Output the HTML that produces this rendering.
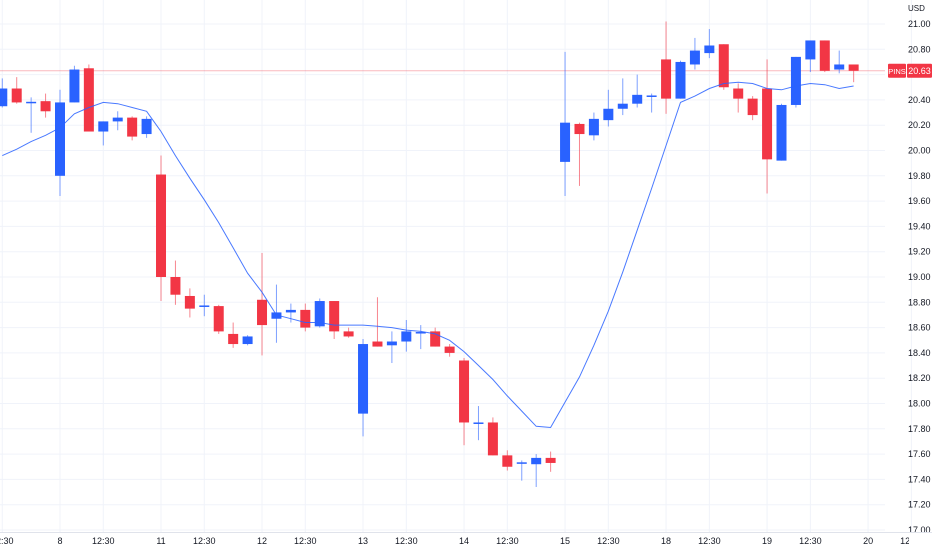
<!DOCTYPE html>
<html><head><meta charset="utf-8">
<style>
html,body{margin:0;padding:0;background:#fff;}
svg{display:block;font-family:"Liberation Sans",sans-serif;}
</style></head>
<body>
<svg id="chart" width="932" height="550" viewBox="0 0 932 550" xmlns="http://www.w3.org/2000/svg">
<defs><clipPath id="plotClip"><rect x="0" y="0" width="885" height="532"/></clipPath>
<clipPath id="xClip"><rect x="0" y="533" width="909" height="17"/></clipPath></defs>
<g id="grid"></g>
<g id="plot" clip-path="url(#plotClip)"></g>
<g id="yaxis"></g>
<g id="xaxis"></g>
</svg>
<script>
const opens  = [20.35,20.49,20.375,20.39,19.80,20.38,20.65,20.15,20.23,20.26,20.13,19.81,19.00,18.85,18.767,18.77,18.55,18.47,18.82,18.67,18.72,18.74,18.61,18.81,18.57,17.92,18.49,18.46,18.49,18.557,18.57,18.45,18.34,17.84,17.85,17.59,17.525,17.52,17.57,19.91,20.21,20.12,20.24,20.33,20.37,20.427,20.72,20.41,20.68,20.77,20.84,20.49,20.41,20.49,19.92,20.36,20.72,20.87,20.64,20.68];
const highs  = [20.57,20.58,20.42,20.45,20.48,20.67,20.68,20.23,20.31,20.27,20.27,19.96,19.13,18.91,18.86,18.78,18.64,18.54,19.19,18.94,18.79,18.79,18.83,18.81,18.60,18.51,18.84,18.57,18.66,18.62,18.60,18.47,18.36,17.98,17.89,17.63,17.55,17.60,17.62,20.78,20.22,20.30,20.48,20.57,20.60,20.45,21.02,20.71,20.89,20.96,20.84,20.53,20.43,20.72,20.37,20.74,20.87,20.87,20.79,20.68];
const lows   = [20.34,20.37,20.14,20.26,19.64,20.38,20.15,20.04,20.16,20.08,20.10,18.81,18.78,18.68,18.69,18.55,18.44,18.46,18.38,18.48,18.64,18.57,18.60,18.51,18.52,17.74,18.45,18.32,18.41,18.43,18.45,18.37,17.67,17.71,17.59,17.47,17.39,17.34,17.46,19.64,19.72,20.08,20.19,20.28,20.34,20.30,20.29,20.41,20.64,20.73,20.48,20.30,20.24,19.66,19.92,20.34,20.62,20.62,20.61,20.54];
const closes = [20.49,20.38,20.385,20.31,20.38,20.64,20.15,20.23,20.26,20.11,20.25,19.00,18.86,18.75,18.775,18.57,18.47,18.53,18.62,18.72,18.74,18.60,18.81,18.57,18.53,18.47,18.45,18.49,18.57,18.565,18.45,18.40,17.85,17.85,17.59,17.50,17.535,17.57,17.53,20.22,20.13,20.25,20.33,20.37,20.44,20.435,20.41,20.70,20.79,20.83,20.50,20.41,20.28,19.93,20.36,20.74,20.87,20.63,20.68,20.63];
const maValues = [19.96,20.01,20.07,20.12,20.18,20.29,20.34,20.38,20.37,20.34,20.31,20.15,19.96,19.78,19.61,19.43,19.23,19.03,18.88,18.70,18.67,18.64,18.64,18.62,18.62,18.62,18.61,18.60,18.58,18.57,18.55,18.50,18.41,18.30,18.19,18.06,17.94,17.82,17.81,18.01,18.21,18.46,18.73,19.04,19.37,19.70,20.04,20.38,20.43,20.49,20.53,20.54,20.53,20.49,20.48,20.51,20.53,20.52,20.49,20.51];
const yTicks = [21.00,20.80,20.60,20.40,20.20,20.00,19.80,19.60,19.40,19.20,19.00,18.80,18.60,18.40,18.20,18.00,17.80,17.60,17.40,17.20,17.00];
const xLabels = ["12:30","8","12:30","11","12:30","12","12:30","13","12:30","14","12:30","15","12:30","18","12:30","19","12:30","20","12:30"];
const xLabelIdx = [-4,0,3,7,10,14,17,21,24,28,31,35,38,42,45,49,52,56,59];
const lastPrice = 20.63;
const symbol = "PINS";

const NS="http://www.w3.org/2000/svg";
const firstIdx=4;
function yScale(v){return 24+(21-v)*126.5;}
function xScale(i){return 60+(i-firstIdx)*14.43;}
function mk(tag,attrs,parent){const e=document.createElementNS(NS,tag);for(const k in attrs)e.setAttribute(k,attrs[k]);parent.appendChild(e);return e;}
const grid=document.getElementById('grid'),plot=document.getElementById('plot'),yax=document.getElementById('yaxis'),xax=document.getElementById('xaxis');
const xlabG=mk('g',{'clip-path':'url(#xClip)'},xax);

yTicks.forEach(t=>{
  const y=yScale(t);
  const l=mk('line',{x1:0,x2:885,y1:y,y2:y,stroke:'#f0f3fa','stroke-width':1},grid);
  
  
  const tx=mk('text',{x:908,y:y+3,'font-size':9,fill:'#131722'},yax);
  tx.textContent=t.toFixed(2);
  
  
});
const usd=mk('text',{x:908,y:11,'font-size':8,fill:'#131722'},yax);usd.textContent='USD';



xLabels.forEach((lab,k)=>{
  const x=xScale(xLabelIdx[k]+firstIdx);
  const l=mk('line',{x1:x,x2:x,y1:0,y2:532,stroke:'#f0f3fa','stroke-width':1},grid);
  
  
  const tx=mk('text',{x:x,y:544,'font-size':9,fill:'#131722','text-anchor':'middle'},xlabG);
  tx.textContent=lab;
  
  
});
const sep=mk('line',{x1:0,x2:932,y1:532.5,y2:532.5,stroke:'#e0e3eb'},xax);



const lp=mk('line',{x1:0,x2:885,y1:yScale(lastPrice),y2:yScale(lastPrice),stroke:'#f23645','stroke-width':1,opacity:0.35},plot);



for(let i=0;i<opens.length;i++){
  const x=xScale(i),up=closes[i]>=opens[i],col=up?'#2962ff':'#f23645';
  const g=mk('g',{},plot);
  
  
  mk('line',{x1:x,x2:x,y1:yScale(highs[i]),y2:yScale(lows[i]),stroke:col,'stroke-width':1,opacity:0.6},g);
  const top=yScale(Math.max(opens[i],closes[i])),bot=yScale(Math.min(opens[i],closes[i]));
  mk('rect',{x:x-5,y:top,width:10,height:Math.max(1.5,bot-top),fill:col},g);
}
let d='';
maValues.forEach((v,i)=>{d+=(i?'L':'M')+xScale(i).toFixed(1)+' '+yScale(v).toFixed(1);});
const ma=mk('path',{d:d,fill:'none',stroke:'#2962ff','stroke-width':1,opacity:0.85},plot);



const py=yScale(lastPrice);
const sb=mk('rect',{x:888,y:py-7,width:18,height:14,fill:'#f23645',rx:1},yax);


const st=mk('text',{x:897,y:py+3,'font-size':7.5,fill:'#fff','text-anchor':'middle'},yax);st.textContent=symbol;
const pb=mk('rect',{x:907,y:py-7,width:25,height:14,fill:'#f23645',rx:1},yax);


const pt=mk('text',{x:919.5,y:py+3,'font-size':9,fill:'#fff','text-anchor':'middle'},yax);pt.textContent=lastPrice.toFixed(2);
</script>
</body></html>
